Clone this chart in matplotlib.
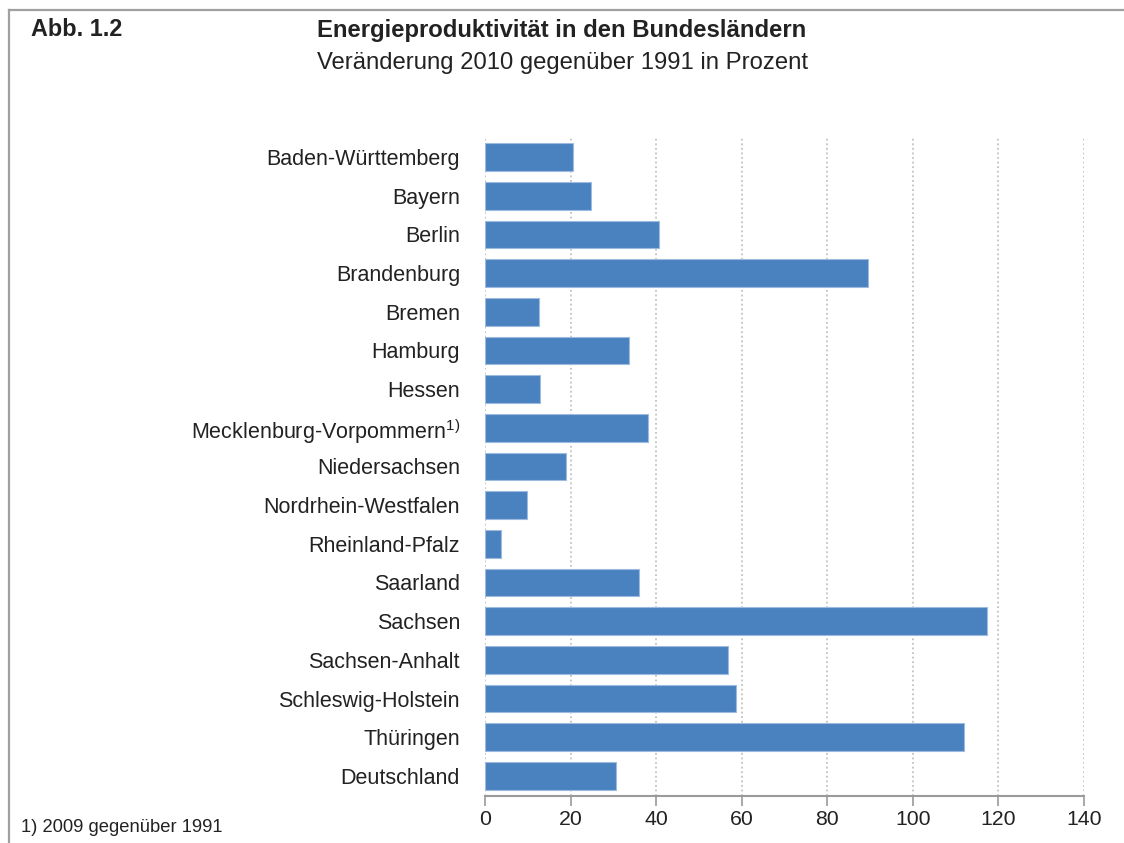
import matplotlib
matplotlib.use("Agg")
import matplotlib.pyplot as plt
from matplotlib.lines import Line2D

plt.rcParams["font.family"] = ["Liberation Sans", "DejaVu Sans"]
plt.rcParams["mathtext.fontset"] = "custom"
plt.rcParams["mathtext.rm"] = "Liberation Sans"
plt.rcParams["mathtext.it"] = "Liberation Sans"

laender = [
    "Baden-Württemberg", "Bayern", "Berlin", "Brandenburg", "Bremen",
    "Hamburg", "Hessen", "Mecklenburg-Vorpommern$^{\\mathrm{1)}}$",
    "Niedersachsen", "Nordrhein-Westfalen", "Rheinland-Pfalz", "Saarland",
    "Sachsen", "Sachsen-Anhalt", "Schleswig-Holstein", "Thüringen",
    "Deutschland",
]
veraenderung = [20.6, 24.7, 40.6, 89.6, 12.7, 33.6, 12.9, 38.1, 19.0,
                9.9, 3.7, 36.1, 117.4, 56.8, 58.6, 112.0, 30.6]
x_ticks = [0, 20, 40, 60, 80, 100, 120, 140]

fig = plt.figure(figsize=(11.24, 8.43), dpi=100)
ax = fig.add_axes([0.4315, 0.0558, 0.9644 - 0.4315, 0.8375 - 0.0558])

pos = list(range(len(laender)))
ax.barh(pos, veraenderung, height=0.72, color="#4a81bf",
        edgecolor="#9dbbe0", linewidth=0.8, zorder=3)

ax.set_xlim(0, 140)
ax.set_ylim(len(laender) - 0.48, -0.52)
ax.set_xticks(x_ticks)
ax.set_xticklabels([str(t) for t in x_ticks])
ax.set_yticks(pos)
ax.set_yticklabels(laender)

for t in x_ticks:
    ax.axvline(t, color="#b8b8b8", linestyle=(0, (1.2, 1.8)), linewidth=1.1,
               zorder=1)

for side in ("left", "right", "top"):
    ax.spines[side].set_visible(False)
ax.spines["bottom"].set_color("#9a9a9a")
ax.spines["bottom"].set_linewidth(1.5)

ax.tick_params(axis="x", direction="out", length=7, width=1.2,
               color="#9a9a9a", labelsize=15.3, labelcolor="#222222", pad=3)
ax.tick_params(axis="y", length=0, labelsize=15.5, labelcolor="#222222",
               pad=18)

# Header
fig.text(31 / 1124, 1 - 30 / 843, "Abb. 1.2", fontsize=16.8,
         fontweight="bold", color="#222222", va="center", ha="left")
fig.text(317 / 1124, 1 - 30 / 843, "Energieproduktivität in den Bundesländern",
         fontsize=17.2, fontweight="bold", color="#222222",
         va="center", ha="left")
fig.text(317 / 1124, 1 - 63 / 843, "Veränderung 2010 gegenüber 1991 in Prozent",
         fontsize=17.2, color="#222222", va="center", ha="left")

# Footnote
fig.text(21 / 1124, 1 - 828 / 843, "1) 2009 gegenüber 1991", fontsize=13.2,
         color="#222222", va="center", ha="left")

# Frame lines
fig.add_artist(Line2D([8.5 / 1124, 1.0], [1 - 9.5 / 843, 1 - 9.5 / 843],
                      transform=fig.transFigure, color="#a0a0a0",
                      linewidth=1.6))
fig.add_artist(Line2D([8.5 / 1124, 8.5 / 1124], [1 - 9.5 / 843, 0.0],
                      transform=fig.transFigure, color="#a0a0a0",
                      linewidth=1.6))

fig.savefig("out.png", dpi=100)
